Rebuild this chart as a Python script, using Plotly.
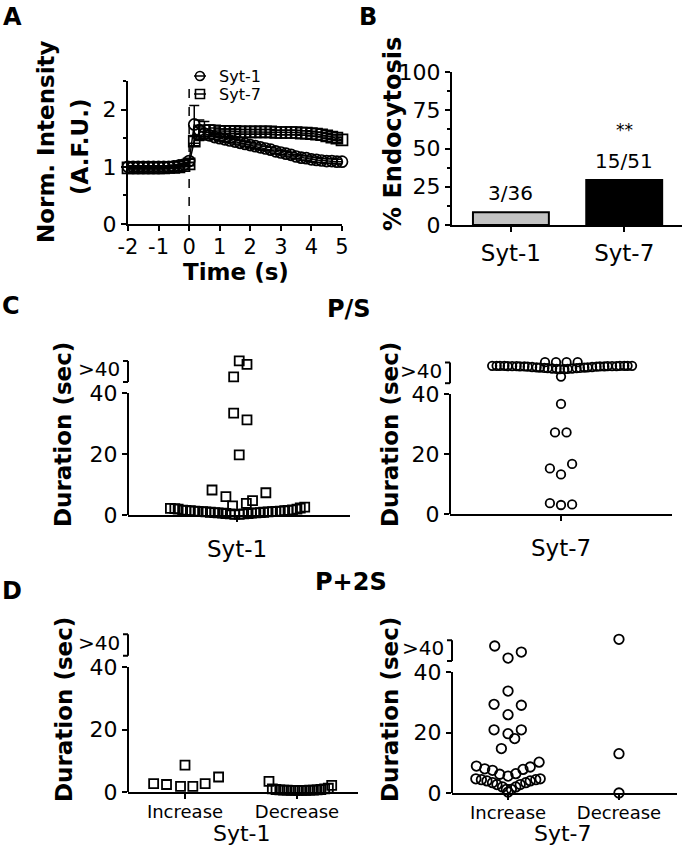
import plotly.graph_objects as go

W, H = 683, 847
FONT = "DejaVu Sans"

# ---------------- Panel A data ----------------
time_s = [-2.0, -1.833, -1.667, -1.5, -1.333, -1.167, -1.0, -0.833, -0.667, -0.5, -0.333,
          -0.167, 0.0, 0.167, 0.333, 0.5, 0.667, 0.833, 1.0, 1.167, 1.333, 1.5, 1.667,
          1.833, 2.0, 2.167, 2.333, 2.5, 2.667, 2.833, 3.0, 3.167, 3.333, 3.5, 3.667,
          3.833, 4.0, 4.167, 4.333, 4.5, 4.667, 4.833, 5.0]
syt1_intensity = [1.00, 1.00, 1.00, 1.00, 1.00, 1.00, 1.00, 1.00, 1.00, 1.01, 1.02,
                  1.04, 1.10, 1.74, 1.64, 1.58, 1.55, 1.52, 1.50, 1.48, 1.46, 1.44, 1.42,
                  1.40, 1.38, 1.36, 1.34, 1.32, 1.30, 1.27, 1.25, 1.23, 1.21, 1.18, 1.16,
                  1.15, 1.13, 1.12, 1.11, 1.10, 1.10, 1.09, 1.09]
syt1_sem = [0.02, 0.02, 0.02, 0.02, 0.02, 0.02, 0.02, 0.02, 0.02, 0.02, 0.02,
            0.02, 0.03, 0.33, 0.18, 0.08, 0.05, 0.04, 0.04, 0.04, 0.04, 0.04, 0.04,
            0.04, 0.04, 0.04, 0.04, 0.04, 0.04, 0.04, 0.04, 0.04, 0.04, 0.04, 0.04,
            0.04, 0.04, 0.04, 0.04, 0.04, 0.04, 0.04, 0.04]
syt7_intensity = [0.98, 0.98, 0.98, 0.98, 0.98, 0.98, 0.98, 0.98, 0.99, 0.99, 1.00,
                  1.02, 1.05, 1.45, 1.60, 1.63, 1.63, 1.63, 1.62, 1.62, 1.62, 1.62, 1.61,
                  1.61, 1.61, 1.61, 1.61, 1.61, 1.61, 1.60, 1.60, 1.60, 1.60, 1.60, 1.59,
                  1.59, 1.58, 1.57, 1.56, 1.54, 1.52, 1.50, 1.47]
syt7_sem = [0.02, 0.02, 0.02, 0.02, 0.02, 0.02, 0.02, 0.02, 0.02, 0.02, 0.02,
            0.02, 0.03, 0.08, 0.12, 0.16, 0.10, 0.05, 0.04, 0.04, 0.04, 0.04, 0.04,
            0.04, 0.04, 0.04, 0.04, 0.04, 0.04, 0.04, 0.04, 0.04, 0.04, 0.04, 0.04,
            0.04, 0.04, 0.04, 0.04, 0.04, 0.04, 0.04, 0.04]
series_a = ["Syt-1", "Syt-7"]
time_ticks = [-2, -1, 0, 1, 2, 3, 4, 5]
time_ticklabels = ["-2", "-1", "0", "1", "2", "3", "4", "5"]

# ---------------- Panel B data ----------------
groups_b = ["Syt-1", "Syt-7"]
endo_counts = [3, 15]
total_counts = [36, 51]
pct_endo = [100.0 * e / t for e, t in zip(endo_counts, total_counts)]
sig_label = ["", "**"]

# ---------------- Panel C data (P/S) ----------------
# x offsets within the category column (beeswarm spread), duration values.
# Values above 40 are plotted on the ">40" broken-axis segment.
c_syt1_offset = [-0.60, -0.56, -0.53, -0.49, -0.46, -0.42, -0.38, -0.35, -0.31, -0.28,
                 -0.24, -0.20, -0.17, -0.13, -0.10, -0.06, -0.02, 0.02, 0.06, 0.10,
                 0.13, 0.17, 0.21, 0.24, 0.28, 0.32, 0.35, 0.39, 0.43, 0.46,
                 0.50, 0.54, 0.57, 0.61,
                 -0.225, -0.10, -0.04, 0.084, 0.14, 0.26, 0.02, -0.03, 0.09,
                 0.02, 0.09, -0.03]
c_syt1_duration = [2.2, 2.1, 1.9, 1.6, 1.5, 1.4, 1.3, 1.2, 1.1, 1.0,
                   0.9, 0.8, 0.7, 0.6, 0.5, 0.4, 0.2, 0.2, 0.4, 0.5,
                   0.6, 0.7, 0.8, 0.9, 1.0, 1.1, 1.2, 1.3, 1.4, 1.5,
                   1.7, 1.9, 2.3, 2.6,
                   8.2, 6.0, 3.0, 3.8, 4.7, 7.3, 19.7, 33.4, 31.2,
                   50.5, 49.4, 45.3]
c_syt7_offset = [-0.62, -0.58, -0.55, -0.51, -0.48, -0.44, -0.40, -0.37, -0.33, -0.30,
                 -0.26, -0.22, -0.19, -0.15, -0.12, -0.08, -0.04, -0.01, 0.03, 0.06,
                 0.10, 0.14, 0.17, 0.21, 0.24, 0.28, 0.32, 0.35, 0.39, 0.42,
                 0.46, 0.50, 0.53, 0.57, 0.60, 0.64,
                 -0.144, -0.045, 0.05, 0.15, 0.0,
                 0.0, -0.054, 0.05, 0.10, -0.10, 0.0, -0.10, 0.0, 0.10]
c_syt7_duration = [49.4, 49.4, 49.4, 49.4, 49.3, 49.3, 49.3, 49.2, 49.2, 49.1,
                   49.0, 48.9, 48.8, 48.7, 48.6, 48.5, 48.4, 48.3, 48.3, 48.4,
                   48.5, 48.6, 48.7, 48.8, 48.9, 49.0, 49.1, 49.2, 49.2, 49.3,
                   49.3, 49.3, 49.4, 49.4, 49.4, 49.4,
                   50.6, 50.6, 50.6, 50.6, 45.8,
                   36.7, 27.2, 27.2, 16.7, 15.2, 13.2, 3.6, 3.0, 3.2]

# ---------------- Panel D data (P+2S) ----------------
d_categories = ["Increase", "Decrease"]
d_syt1_inc_offset = [-0.28, -0.165, -0.04, 0.07, 0.18, 0.30, 0.0]
d_syt1_inc_duration = [2.7, 2.4, 1.8, 1.8, 2.7, 4.8, 8.6]
d_syt1_dec_offset = [-0.25, -0.22, -0.187, -0.153, -0.12, -0.087, -0.053, -0.02, 0.013,
                     0.047, 0.08, 0.113, 0.147, 0.18, 0.213, 0.247, 0.28, 0.31]
d_syt1_dec_duration = [3.4, 1.0, 0.8, 0.7, 0.6, 0.6, 0.5, 0.5, 0.5,
                       0.5, 0.5, 0.6, 0.6, 0.7, 0.8, 1.0, 1.2, 2.1]
d_syt7_inc_offset = [-0.12, 0.0, 0.12, 0.0, -0.126, 0.12, 0.0, -0.126, 0.0, 0.12, 0.06, -0.06,
                     -0.285, -0.21, -0.14, -0.075, 0.0, 0.07, 0.135, 0.20, 0.28,
                     -0.29, -0.24, -0.19, -0.14, -0.10, -0.05, -0.015, 0.0, 0.03, 0.07,
                     0.11, 0.16, 0.20, 0.25, 0.29]
d_syt7_inc_duration = [48.6, 44.6, 46.6, 33.7, 29.3, 29.0, 25.9, 20.9, 19.6, 20.9, 18.0, 14.7,
                       8.9, 8.0, 7.5, 6.2, 5.6, 6.4, 7.8, 8.6, 10.2,
                       4.7, 4.4, 4.0, 3.4, 2.8, 2.0, 1.2, 0.3, 1.2, 2.0,
                       2.8, 3.4, 4.0, 4.4, 4.7]
d_syt7_dec_offset = [0.0, 0.0, 0.0]
d_syt7_dec_duration = [50.8, 13.0, 0.0]

# ---------------- helpers ----------------
def px_x(p):
    return p / W

def px_y(p):
    return 1 - p / H

LINE = dict(color="black", width=2)

fig = go.Figure()

# Panel A traces
fig.add_trace(go.Scatter(
    x=time_s, y=syt1_intensity, name=series_a[0], mode="lines+markers",
    line=dict(color="black", width=1.5),
    marker=dict(symbol="circle-open", size=11, color="black", line=dict(width=1.7)),
    error_y=dict(type="data", array=syt1_sem, color="black", thickness=1.5, width=5),
    cliponaxis=False, xaxis="x", yaxis="y"))
fig.add_trace(go.Scatter(
    x=time_s, y=syt7_intensity, name=series_a[1], mode="lines+markers",
    line=dict(color="black", width=1.5),
    marker=dict(symbol="square-open", size=11, color="black", line=dict(width=1.7)),
    error_y=dict(type="data", array=syt7_sem, color="black", thickness=1.5, width=5),
    cliponaxis=False, xaxis="x", yaxis="y"))

# Panel B bars
fig.add_trace(go.Bar(
    x=[0, 1], y=pct_endo, width=0.67,
    marker=dict(color=["#c3c3c3", "black"], line=dict(color="black", width=2)),
    xaxis="x2", yaxis="y2"))

def strip(offsets, values, center, symbol, size, xa, ya):
    return go.Scatter(
        x=[center + o for o in offsets], y=values, mode="markers",
        marker=dict(symbol=symbol, size=size, color="black", line=dict(width=1.8)),
        cliponaxis=False, xaxis=xa, yaxis=ya)

fig.add_trace(strip(c_syt1_offset, c_syt1_duration, 0, "square-open", 9, "x3", "y3"))
fig.add_trace(strip(c_syt7_offset, c_syt7_duration, 0, "circle-open", 8.5, "x4", "y4"))
fig.add_trace(strip(d_syt1_inc_offset, d_syt1_inc_duration, 0, "square-open", 9, "x5", "y5"))
fig.add_trace(strip(d_syt1_dec_offset, d_syt1_dec_duration, 1, "square-open", 9, "x5", "y5"))
fig.add_trace(strip(d_syt7_inc_offset, d_syt7_inc_duration, 0, "circle-open", 9.5, "x6", "y6"))
fig.add_trace(strip(d_syt7_dec_offset, d_syt7_dec_duration, 1, "circle-open", 9.5, "x6", "y6"))

TICKF = dict(family=FONT, size=22, color="black")

def ax(domain, rng, **kw):
    d = dict(domain=domain, range=rng, showgrid=False, zeroline=False, showline=True,
             linecolor="black", linewidth=2, ticks="outside", ticklen=5, tickwidth=2,
             tickcolor="black", tickfont=TICKF, fixedrange=True, tickangle=0)
    d.update(kw)
    return d

layout = dict(
    width=W, height=H, margin=dict(l=0, r=0, t=0, b=0, pad=0, autoexpand=False),
    autosize=False,
    plot_bgcolor="white", paper_bgcolor="white", showlegend=False,
    font=dict(family=FONT, color="black"),
    # A
    xaxis=ax([px_x(128), px_x(342)], [-2, 5], tickvals=time_ticks, ticktext=time_ticklabels,
             anchor="y", ticklabelstandoff=-2, tickfont=dict(family=FONT, size=21, color="black")),
    yaxis=ax([px_y(224), px_y(81)], [0, 2.5], tick0=0, dtick=1, anchor="x",
             minor=dict(dtick=0.5, ticks="outside", ticklen=3, tickwidth=2, tickcolor="black")),
    # B
    xaxis2=ax([px_x(452), px_x(682)], [-0.52, 1.51], tickvals=[0, 1], ticktext=groups_b,
              anchor="y2", tickfont=dict(family=FONT, size=23, color="black"),
              ticklabelstandoff=1),
    yaxis2=ax([px_y(225), px_y(72)], [0, 100], tick0=0, dtick=25, anchor="x2",
              minor=dict(dtick=12.5, ticks="outside", ticklen=3, tickwidth=2, tickcolor="black")),
    # C left
    xaxis3=ax([px_x(128), px_x(350)], [-0.982, 1.018], tickvals=[0], ticktext=["Syt-1"],
              anchor="y3", tickfont=dict(family=FONT, size=23, color="black"),
              ticklabelstandoff=7),
    yaxis3=ax([px_y(515), px_y(355)], [0, 160 / 3.05], tickvals=[0, 20, 40], anchor="x3",
              showline=False),
    # C right
    xaxis4=ax([px_x(450), px_x(672)], [-1.0, 1.0], tickvals=[0], ticktext=["Syt-7"],
              anchor="y4", tickfont=dict(family=FONT, size=23, color="black"),
              ticklabelstandoff=7),
    yaxis4=ax([px_y(514), px_y(357)], [0, 157 / 3.0], tickvals=[0, 20, 40], anchor="x4",
              showline=False),
    # D left
    xaxis5=ax([px_x(128), px_x(358)], [-0.509, 1.545], tickvals=[0, 1], ticktext=d_categories,
              anchor="y5", tickfont=dict(family=FONT, size=18, color="black"),
              ticklabelstandoff=-3),
    yaxis5=ax([px_y(792), px_y(629.5)], [0, 52], tickvals=[0, 20, 40], anchor="x5",
              showline=False),
    # D right
    xaxis6=ax([px_x(452), px_x(677)], [-0.505, 1.523], tickvals=[0, 1], ticktext=d_categories,
              anchor="y6", tickfont=dict(family=FONT, size=18, color="black"),
              ticklabelstandoff=-3),
    yaxis6=ax([px_y(793), px_y(635.7)], [0, 52], tickvals=[0, 20, 40], anchor="x6",
              showline=False),
)
fig.update_layout(**layout)

shapes = []
# dashed stimulus line in A
shapes.append(dict(type="line", xref="x", yref="y", x0=0, x1=0, y0=0, y1=2.5,
                   line=dict(color="black", width=1.5, dash="dash")))

# broken y axes for C / D
for xa, ya in [("x3", "y3"), ("x4", "y4"), ("x5", "y5"), ("x6", "y6")]:
    xd = xa + " domain"
    shapes.append(dict(type="line", xref=xd, yref=ya, x0=0, x1=0, y0=0, y1=40, line=LINE))
    shapes.append(dict(type="line", xref=xd, yref=ya, x0=0, x1=0, y0=43.6, y1=50.5, line=LINE))
    for yy in (43.6, 50.5):
        shapes.append(dict(type="line", xref=xd, yref=ya, xsizemode="pixel", xanchor=0,
                           x0=-5, x1=0, y0=yy, y1=yy, line=LINE))

# legend glyphs for A (paper coordinates)
for cy, kind in [(76, "circle"), (94, "rect")]:
    shapes.append(dict(type="line", xref="paper", yref="paper", x0=px_x(194), x1=px_x(206),
                       y0=px_y(cy), y1=px_y(cy), line=dict(color="black", width=1.5)))
    shapes.append(dict(type=kind, xref="paper", yref="paper", x0=px_x(195.5), x1=px_x(204.5),
                       y0=px_y(cy + 4.5), y1=px_y(cy - 4.5), line=dict(color="black", width=1.6)))
fig.update_layout(shapes=shapes)

anns = []

def ann(text, x, y, size, bold=False, angle=0, xanchor="center", yanchor="middle"):
    t = "<b>%s</b>" % text if bold else text
    anns.append(dict(text=t, x=px_x(x), y=px_y(y), xref="paper", yref="paper",
                     showarrow=False, textangle=angle, xanchor=xanchor, yanchor=yanchor,
                     font=dict(family=FONT, size=size, color="black")))

# panel letters
ann("A", 12, 17, 24, bold=True)
ann("B", 368, 17, 24, bold=True)
ann("C", 11, 306, 24, bold=True)
ann("D", 12, 591, 24, bold=True)
ann("P/S", 349, 309, 24, bold=True)
ann("P+2S", 351, 582, 24, bold=True)

# axis titles
ann("Norm. Intensity", 46, 142, 23, bold=True, angle=-90)
ann("(A.F.U.)", 80, 147, 23, bold=True, angle=-90)
ann("Time (s)", 236, 272, 23, bold=True)
ann("% Endocytosis", 393, 134, 24, bold=True, angle=-90)
for cx, cy in [(63, 435), (390, 435), (64, 710), (390, 710)]:
    ann("Duration (sec)", cx, cy, 23, bold=True, angle=-90)
ann(groups_b[0], 242, 833, 22)
ann(groups_b[1], 563, 833, 22)

# legend text for A
ann(series_a[0], 217, 76, 16, xanchor="left")
ann(series_a[1], 217, 94, 16, xanchor="left")

# ">40" labels on broken axes
for xa, ya in [("x3", "y3"), ("x4", "y4"), ("x5", "y5"), ("x6", "y6")]:
    anns.append(dict(text=">40", xref=xa + " domain", yref=ya, x=0, y=47.8, xanchor="right",
                     yanchor="middle", xshift=-6, showarrow=False,
                     font=dict(family=FONT, size=20, color="black")))

# bar labels in B
fracs = ["%d/%d" % (e, t) for e, t in zip(endo_counts, total_counts)]
for i, (lab, v) in enumerate(zip(fracs, pct_endo)):
    anns.append(dict(text=lab, xref="x2", yref="y2", x=i, y=v, yanchor="bottom", yshift=5,
                     showarrow=False, font=dict(family=FONT, size=20, color="black")))
    if sig_label[i]:
        anns.append(dict(text=sig_label[i], xref="x2", yref="y2", x=i, y=v, yanchor="bottom",
                         yshift=38, showarrow=False, font=dict(family=FONT, size=17, color="black")))

fig.update_layout(annotations=anns)
fig.write_html("out.html", config={"displayModeBar": False},
               post_script="document.body.style.margin='0';document.body.style.overflow='hidden';")
